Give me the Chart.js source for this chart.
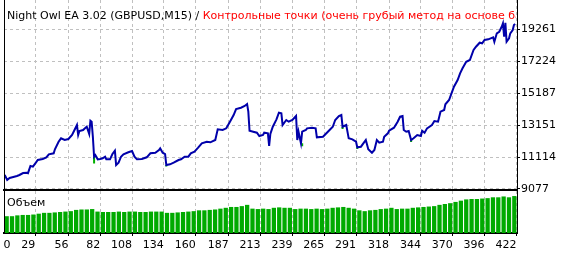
<!DOCTYPE html>
<html>
<head>
<meta charset="utf-8">
<script src="https://cdn.jsdelivr.net/npm/chart.js@4.4.0/dist/chart.umd.min.js"></script>
<style>
    body { margin: 0; background: #fff; }
    #wrap { position: relative; width: 562px; height: 253px; overflow: hidden; font-family: "DejaVu Sans", sans-serif; font-size: 11px; }
    #balance { position: absolute; left: 0; top: 0; }
    #volume { position: absolute; left: 0; top: 191px; }
    #title { position: absolute; left: 7px; top: 9px; width: 509px; overflow: hidden; white-space: nowrap; line-height: 13px; color: #000; }
    #title span { color: #f00; }
    #volTitle { position: absolute; left: 7px; top: 196px; line-height: 13px; color: #000; }
</style>
</head>
<body>
<div id="wrap">
    <canvas id="balance" width="562" height="200"></canvas>
    <canvas id="volume" width="562" height="62"></canvas>
    <div id="title">Night Owl EA 3.02 (GBPUSD,M15) / <span>Контрольные точки (очень грубый метод на основе базовой модели)</span></div>
    <div id="volTitle">Объем</div>
</div>
<script>
// balance curve (trade number / balance)
var tradeNo = [4, 6, 8, 11, 14, 16, 19, 22, 23, 25, 27, 29, 31, 35, 38, 40, 44, 45, 48, 50,
    53, 56, 59, 61, 63, 64, 65, 68, 70, 71, 73, 74, 75, 76, 77, 78, 80, 82, 84, 86,
    87, 90, 92, 94, 95, 97, 99, 101, 105, 108, 110, 112, 116, 120, 123, 127, 130, 131, 133, 135,
    136, 139, 142, 146, 148, 151, 154, 156, 159, 162, 165, 169, 172, 176, 178, 182, 185, 188, 191, 193,
    197, 200, 202, 203, 204, 207, 210, 212, 215, 216, 219, 220, 221, 223, 226, 228, 230, 231, 234, 236,
    239, 242, 243, 244, 246, 247, 250, 251, 255, 258, 259, 264, 268, 272, 274, 277, 279, 280, 283, 285,
    288, 291, 292, 295, 298, 299, 301, 304, 306, 308, 310, 313, 314, 317, 318, 322, 325, 327, 329, 330,
    332, 334, 336, 338, 341, 344, 345, 347, 349, 353, 355, 358, 360, 363, 364, 367, 369, 371, 374, 376,
    378, 381, 384, 387, 389, 392, 394, 396, 399, 401, 403, 404, 406, 408, 410, 411, 412, 413, 414, 416,
    417, 419, 420, 421];
var balance = [9968, 9649, 9777, 9840, 9904, 9968, 10095, 10114, 10085, 10540, 10496, 10712, 10922, 10986, 11094, 11285, 11349, 11604, 12088, 12304,
    12196, 12260, 12514, 12832, 13151, 12514, 12769, 12832, 12979, 13042, 12578, 13424, 13361, 12406, 11133, 11241, 10967, 10986, 11031, 11133,
    10967, 10967, 11304, 11514, 10604, 10750, 11133, 11285, 11413, 11495, 11133, 10967, 10986, 11094, 11349, 11387, 11559, 11667, 11387, 11304,
    10604, 10649, 10750, 10922, 10967, 11133, 11133, 11349, 11451, 11706, 11986, 12088, 12050, 12196, 12877, 12832, 12940, 13361, 13787, 14169,
    14252, 14360, 14487, 13998, 12788, 12724, 12660, 12450, 12514, 12660, 12622, 11814, 12578, 13042, 13513, 13933, 13895, 13151, 13469, 13361,
    13469, 13723, 12196, 12724, 11986, 12724, 12832, 12940, 12979, 12940, 12367, 12406, 12724, 13042, 13469, 13723, 13787, 13042, 13151, 12304,
    12240, 12088, 11731, 11769, 12088, 12196, 11604, 11387, 11559, 12196, 12024, 12088, 12406, 12622, 12788, 12979, 13361, 13679, 13723, 12832,
    12724, 12769, 12196, 12304, 12514, 12450, 12788, 12660, 12940, 13151, 13405, 13361, 13998, 14105, 14468, 14742, 15168, 15589, 16015, 16442,
    16760, 17180, 17288, 17925, 18135, 18390, 18352, 18562, 18606, 18670, 18734, 18453, 18988, 19090, 19408, 19625, 18772, 19663, 18453, 18670,
    18988, 19198, 19517, 19580];

// equity drawdowns below the balance line (green ticks)
var eqTrade = [77, 136, 247, 280, 292, 336];
var eqFrom = [11133, 10604, 11986, 13042, 11731, 12196];
var eqTo = [10700, 10510, 11800, 12900, 11620, 12070];

// lot size bars
var volume = [0.40, 0.40, 0.42, 0.43, 0.43, 0.44, 0.46, 0.48, 0.48, 0.49,
    0.50, 0.51, 0.52, 0.55, 0.56, 0.56, 0.57, 0.51, 0.50, 0.50,
    0.50, 0.51, 0.50, 0.51, 0.51, 0.50, 0.50, 0.51, 0.51, 0.51,
    0.48, 0.48, 0.49, 0.50, 0.51, 0.52, 0.54, 0.54, 0.55, 0.56,
    0.58, 0.60, 0.62, 0.62, 0.64, 0.67, 0.58, 0.57, 0.58, 0.57,
    0.60, 0.61, 0.60, 0.60, 0.57, 0.58, 0.58, 0.57, 0.58, 0.57,
    0.58, 0.60, 0.61, 0.62, 0.60, 0.58, 0.54, 0.52, 0.54, 0.55,
    0.57, 0.58, 0.60, 0.57, 0.58, 0.58, 0.60, 0.61, 0.62, 0.63,
    0.64, 0.67, 0.69, 0.71, 0.74, 0.77, 0.80, 0.81, 0.81, 0.82,
    0.83, 0.85, 0.85, 0.87, 0.85, 0.88];

var balanceTicks = [9077, 11114, 13151, 15187, 17224, 19261];
var tradeTicks = ['0', '29', '56', '82', '108', '134', '160', '187', '213', '239', '265', '291', '318', '344', '370', '396', '422'];

var xMin = 3.4, xMax = 422.5;
var gridGrey = '#c0c0c0';
var font = { family: 'DejaVu Sans', size: 11 };

var balancePoints = tradeNo.map(function(t, i) {
    return { x: t, y: balance[i] };
});
var equityPoints = [];
eqTrade.forEach(function(t, i) {
    equityPoints.push({ x: t, y: eqFrom[i] }, { x: t, y: eqTo[i] }, { x: t, y: null });
});

// no extra room for half labels, the frame goes right to the edges
function noPadding(s) {
    s.paddingTop = 0;
    s.paddingBottom = 0;
    s.paddingLeft = 0;
    s.paddingRight = 0;
}

// left frame line, the axes only give bottom and right
var leftEdge = {
    id: 'leftEdge',
    afterDraw: function(chart) {
        var a = chart.chartArea, c = chart.ctx;
        c.save();
        c.strokeStyle = '#000';
        c.lineWidth = 1;
        c.beginPath();
        c.moveTo(a.left + 0.5, 0);
        c.lineTo(a.left + 0.5, a.bottom);
        c.stroke();
        c.restore();
    }
};

new Chart(document.getElementById('balance'), {
    type: 'line',
    data: {
        datasets: [{
            data: balancePoints,
            borderColor: '#0000aa',
            borderWidth: 2,
            pointRadius: 0,
            tension: 0
        }, {
            data: equityPoints,
            borderColor: '#00b000',
            borderWidth: 2,
            pointRadius: 0,
            spanGaps: false
        }]
    },
    options: {
        responsive: false,
        animation: false,
        events: [],
        layout: { padding: { left: 4 } },
        plugins: { legend: { display: false }, tooltip: { enabled: false } },
        scales: {
            x: {
                type: 'linear',
                offset: false,
                min: xMin,
                max: xMax,
                afterBuildTicks: function(s) {
                    s.ticks = tradeTicks.slice(1).map(function(v) { return { value: Number(v) }; });
                },
                afterFit: function(s) { s.height = 10; noPadding(s); },
                ticks: { display: false },
                grid: { color: gridGrey, lineWidth: 1, drawTicks: false },
                border: { color: '#000', width: 2, dash: [3, 3] }
            },
            y: {
                position: 'right',
                min: 9013,
                max: 21110,
                afterBuildTicks: function(s) {
                    s.ticks = balanceTicks.map(function(v) { return { value: v }; });
                },
                afterFit: function(s) { s.width = 45; noPadding(s); },
                ticks: { color: '#000', font: font, padding: 1, callback: function(v) { return String(v); } },
                grid: { color: gridGrey, lineWidth: 1, tickColor: '#000', tickLength: 3, tickBorderDash: [] },
                border: { color: '#000', width: 1, dash: [3, 3] }
            }
        }
    },
    plugins: [leftEdge]
});

new Chart(document.getElementById('volume'), {
    type: 'bar',
    data: {
        labels: volume.map(function(v, i) { return i + 1; }),
        datasets: [{
            data: volume,
            backgroundColor: '#00aa00',
            xAxisID: 'x',
            yAxisID: 'y',
            barPercentage: 0.8,
            categoryPercentage: 1
        }]
    },
    options: {
        responsive: false,
        animation: false,
        events: [],
        layout: { padding: { left: 4 } },
        plugins: { legend: { display: false }, tooltip: { enabled: false } },
        scales: {
            x: { type: 'category', display: false, offset: true },
            trades: {
                type: 'linear',
                axis: 'x',
                position: 'bottom',
                offset: false,
                min: xMin,
                max: xMax,
                afterBuildTicks: function(s) {
                    // the first label sits just inside the frame
                    s.ticks = tradeTicks.map(function(v) { return { value: Math.max(Number(v), xMin + 5.3) }; });
                },
                afterFit: function(s) { s.height = 20; noPadding(s); },
                ticks: {
                    color: '#000',
                    font: font,
                    align: 'end',
                    padding: 3,
                    autoSkip: false,
                    maxRotation: 0,
                    callback: function(v, i) { return tradeTicks[i]; }
                },
                grid: {
                    offset: false,
                    lineWidth: 1,
                    color: function(c) { return c.index === 0 ? 'rgba(0,0,0,0)' : gridGrey; },
                    tickColor: function(c) { return c.index === 0 ? 'rgba(0,0,0,0)' : '#000'; },
                    tickLength: 3,
                    tickBorderDash: []
                },
                border: { color: '#000', width: 2, dash: [3, 3] }
            },
            y: {
                position: 'right',
                min: 0,
                max: 1,
                afterFit: function(s) { s.width = 45; noPadding(s); },
                ticks: { display: false },
                grid: { display: false },
                border: { color: '#000', width: 1 }
            }
        }
    },
    plugins: [leftEdge]
});
</script>
</body>
</html>
